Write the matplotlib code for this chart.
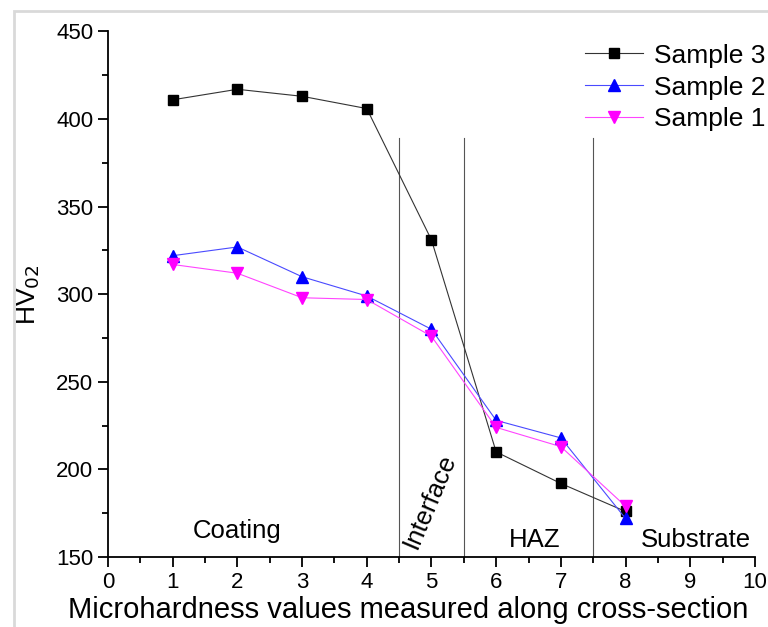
import matplotlib.pyplot as plt
import matplotlib.patches as patches

plt.rcParams['font.family'] = ['Liberation Sans', 'DejaVu Sans']

x = [1, 2, 3, 4, 5, 6, 7, 8]
sample3 = [411, 417, 413, 406, 331, 210, 192, 176]
sample2 = [322, 327, 310, 299, 280, 228, 218, 172]
sample1 = [317, 312, 298, 297, 276, 224, 213, 179]
boundaries = [4.5, 5.5, 7.5]

fig = plt.figure(figsize=(7.68, 6.27), dpi=100)
ax = fig.add_axes([0.1406, 0.1116, 0.8424, 0.8382])

# light frame round the figure
fig.patches.append(patches.Rectangle((14 / 768, -0.1), 2, (627 - 11) / 627 + 0.1,
                                     transform=fig.transFigure, fill=False,
                                     edgecolor='#d9d9d9', linewidth=2))

for b in boundaries:
    ax.plot([b, b], [150, 389], color='#555555', lw=0.8)

ax.plot(x, sample3, '-', color='#333333', lw=0.8, marker='s', ms=7,
        mfc='black', mec='black', label='Sample 3')
ax.plot(x, sample2, '-', color='#4a4aff', lw=0.8, marker='^', ms=8.5,
        mfc='blue', mec='blue', label='Sample 2')
ax.plot(x, sample1, '-', color='#ff44ff', lw=0.8, marker='v', ms=8.5,
        mfc='magenta', mec='magenta', label='Sample 1')

ax.text(2.0, 165, 'Coating', fontsize=18.5, ha='center', va='center')
ax.text(4.97, 182, 'Interface', fontsize=18.5, ha='center', va='center',
        rotation=67, rotation_mode='anchor')
ax.text(6.6, 160, 'HAZ', fontsize=18.5, ha='center', va='center')
ax.text(9.08, 160, 'Substrate', fontsize=18.5, ha='center', va='center')

ax.set_xlim(0, 10)
ax.set_ylim(150, 450)
ax.set_xticks(range(0, 11))
ax.set_xticks([i + 0.5 for i in range(10)], minor=True)
ax.set_yticks(range(150, 451, 50))
ax.set_yticks(range(175, 450, 50), minor=True)
ax.spines['top'].set_visible(False)
ax.spines['right'].set_visible(False)
for s in ['left', 'bottom']:
    ax.spines[s].set_linewidth(1.3)
ax.tick_params(which='major', direction='out', length=7, width=1.3, labelsize=16)
ax.tick_params(which='minor', direction='out', length=4, width=1.3)
ax.set_xlabel('Microhardness values measured along cross-section', fontsize=21, labelpad=0)
ax.xaxis.set_label_coords(0.464, -0.074)
ax.set_ylabel('HV$_{02}$', fontsize=19, labelpad=10)

ax.legend(loc='upper right', bbox_to_anchor=(1.053, 1.022), frameon=False,
          fontsize=19, handlelength=2.2, labelspacing=0.3, handletextpad=0.4)

fig.savefig('out.png', dpi=100)
